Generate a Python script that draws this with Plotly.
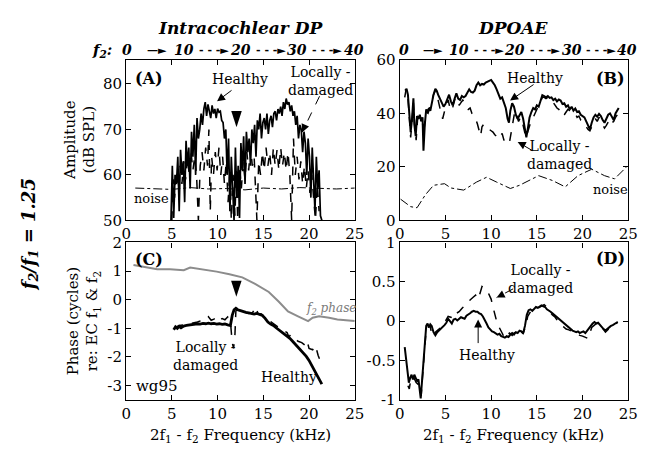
import plotly.graph_objects as go

W, H = 651, 456
FONT = "DejaVu Serif, serif"

# ---------------- data ----------------
# Panel A: intracochlear DP amplitude (dB SPL)
a_h_x = [4.9, 5.05, 5.2, 5.35, 5.5, 5.65, 5.8, 5.95, 6.1, 6.25, 6.4, 6.55, 6.7, 6.85, 7.0, 7.15, 7.3, 7.45, 7.6, 7.75,
         7.9, 8.05, 8.2, 8.35, 8.5, 8.65, 8.8, 8.95, 9.1, 9.25, 9.4, 9.55, 9.7, 9.85, 10.0, 10.15, 10.3, 10.45, 10.6, 10.75,
         10.9, 11.05, 11.2, 11.35, 11.5, 11.65, 11.8, 11.95, 12.1, 12.25, 12.4, 12.55, 12.7, 12.85, 13.0, 13.15, 13.3, 13.45,
         13.6, 13.75, 13.9, 14.05, 14.2, 14.35, 14.5, 14.65, 14.8, 14.95, 15.1, 15.25, 15.4, 15.55, 15.7, 15.85, 16.0, 16.15,
         16.3, 16.45, 16.6, 16.75, 16.9, 17.05, 17.2, 17.35, 17.5, 17.65, 17.8, 17.95, 18.1, 18.25, 18.4, 18.55, 18.7, 18.85,
         19.0, 19.15, 19.3, 19.45, 19.6, 19.75, 19.9, 20.05, 20.2, 20.35, 20.5, 20.65, 20.8, 20.95, 21.1, 21.25, 21.4]
a_h_y = [50, 62, 50.5, 60, 58, 64, 52, 65.5, 60, 63, 54, 67.5, 62, 66, 57, 69.5, 64, 71, 60, 72.5,
         68, 70, 73.5, 71, 74.5, 76, 73, 75.5, 74, 72.5, 75.3, 73.5, 74.5, 72.5, 74.6, 73.8, 74, 72, 71.5, 68,
         70, 60, 68, 52, 64, 58, 50, 66, 55, 62, 50.5, 67, 61, 68.5, 58, 69.5, 65, 68,
         62, 70, 67, 71, 64, 72, 70, 73.5, 68, 71.5, 72.5, 70, 73.5, 69, 72, 73, 70.5, 73.5,
         74, 72, 74.5, 73.5, 75, 73, 76, 74.5, 76.8, 75.5, 76, 74, 75.3, 73, 74, 71, 73, 68,
         71, 70, 65, 69.5, 67, 60, 68, 64, 55, 66, 60, 52, 64, 57, 61, 51, 50]
a_d_x = [5.0, 5.15, 5.3, 5.5, 5.7, 5.9, 6.1, 6.3, 6.5, 6.7, 6.9, 7.1, 7.3, 7.5, 7.7, 7.9, 8.1, 8.3, 8.5, 8.7, 8.9,
         9.05, 9.2, 9.35, 9.55, 9.75, 9.95, 10.15, 10.35, 10.55, 10.75, 10.95, 11.15, 11.35, 11.5, 11.7, 11.9, 12.05,
         12.2, 12.4, 12.6, 12.8, 13.0, 13.2, 13.4, 13.6, 13.8, 14.0, 14.3, 14.5, 14.7, 14.9, 15.1, 15.3, 15.5, 15.7,
         15.9, 16.1, 16.3, 16.5, 16.7, 16.9, 17.1, 17.3, 17.5, 17.7, 17.9, 18.1, 18.3, 18.5, 18.7, 18.9, 19.1, 19.3,
         19.5, 19.7, 19.9, 20.1, 20.3, 20.5, 20.7, 20.9, 21.1]
a_d_y = [50, 59, 55, 61, 57, 62, 58, 63, 59, 64, 60, 65, 61, 64, 60, 50, 62, 65, 61, 66, 62,
         70, 52, 64, 60, 65, 61, 66, 60, 64, 58, 63, 54, 61, 50, 60, 51, 61,
         50, 62, 57, 63, 59, 65, 61, 66, 62, 64, 50, 63, 60, 65, 61, 66, 62, 65,
         60, 66, 62, 65.5, 61, 66, 62, 65, 61, 65, 60, 50, 68, 60, 64, 59, 63, 58,
         62, 57, 61, 56, 60, 55, 50, 58, 52]
a_n_x = [1.0, 3.0, 5.0, 7.0, 9.0, 11.0, 13.0, 15.0, 17.0, 19.0, 21.0, 23.0, 25.0]
a_n_y = [57.1, 57.0, 56.8, 57.2, 56.9, 57.0, 56.7, 57.1, 56.9, 57.2, 57.0, 56.9, 57.1]

# Panel B: DPOAE amplitude (dB SPL)
b_h_x = [0.6, 0.75, 0.9, 1.05, 1.2, 1.35, 1.5, 1.6, 1.75, 1.9, 2.05, 2.2, 2.35, 2.5, 2.6, 2.75, 2.9, 3.05, 3.2, 3.35,
         3.5, 3.7, 3.9, 4.05, 4.2, 4.4, 4.6, 4.8, 5.0, 5.2, 5.4, 5.6, 5.8, 6.0, 6.2, 6.4, 6.6, 6.8, 7.0, 7.2,
         7.4, 7.6, 7.8, 8.0, 8.2, 8.4, 8.6, 8.8, 9.0, 9.2, 9.4, 9.6, 9.8, 10.0, 10.2, 10.4, 10.6, 10.8, 11.0, 11.2,
         11.4, 11.6, 11.8, 11.95, 12.1, 12.3, 12.5, 12.7, 12.9, 13.1, 13.3, 13.5, 13.7, 13.85, 14.0, 14.2, 14.4, 14.6,
         14.8, 15.0, 15.2, 15.4, 15.6, 15.8, 16.0, 16.2, 16.4, 16.6, 16.8, 17.0, 17.2, 17.4, 17.6, 17.8, 18.0, 18.2,
         18.4, 18.6, 18.8, 19.0, 19.2, 19.4, 19.6, 19.8, 20.0, 20.2, 20.4, 20.6, 20.8, 21.0, 21.2, 21.4, 21.6, 21.8,
         22.0, 22.2, 22.4, 22.6, 22.8, 23.0, 23.2, 23.4, 23.6, 23.8, 23.95]
b_h_y = [48.5, 49.2, 47, 40, 33, 38, 45.6, 36, 31.5, 39, 38, 39.5, 37, 38.5, 26, 36, 41.5, 40.5, 42, 41,
         44, 47, 49.2, 48.5, 47, 45.5, 44, 42.5, 43.5, 45, 47, 44.5, 43, 45.5, 47.5, 45.5, 45, 46.5, 46, 46.5,
         48, 49, 48, 47.8, 48.5, 50.5, 51.5, 50.5, 51, 50.8, 51.5, 51.8, 52.2, 52.5, 51.5, 50.5, 49, 47, 45.5, 46,
         44, 42, 38, 36.5, 41, 43.8, 42.5, 39.5, 38, 39.5, 40.5, 38, 34, 31, 34, 38.5, 40.5, 42,
         41.5, 43, 42.5, 45, 46.8, 46.5, 46, 46.5, 45.8, 46, 45, 45.5, 44.5, 45.2, 44.8, 43.5, 43.8, 42.5,
         43, 41.5, 42.5, 41, 41.8, 40.5, 40.8, 39.5, 39, 38.5, 37, 35.5, 34, 36.5, 38.5, 39.5, 38.8, 39.8,
         39, 37.5, 36.5, 38, 39.5, 40, 38.5, 37.5, 40, 41.5, 42]
b_d_x = [0.55, 0.7, 0.9, 1.05, 1.2, 1.35, 1.5, 1.65, 1.8, 1.95, 2.1, 2.3, 2.5, 2.7, 2.9, 3.1, 3.3, 3.5, 3.7, 3.9,
         4.1, 4.3, 4.5, 4.7, 4.9, 5.1, 5.3, 5.5, 5.7, 5.9, 6.1, 6.3, 6.5, 6.7, 6.9, 7.1, 7.3, 7.5, 7.7, 7.9,
         8.1, 8.3, 8.5, 8.7, 8.85, 9.0, 9.2, 9.4, 9.6, 9.8, 10.0, 10.2, 10.4, 10.6, 10.8, 11.0, 11.2, 11.4, 11.6, 11.8,
         12.0, 12.2, 12.4, 12.6, 12.8, 13.0, 13.2, 13.4, 13.6, 13.8, 14.0, 14.2, 14.4, 14.6, 14.8, 15.0, 15.2, 15.4,
         15.6, 15.8, 16.0, 16.2, 16.4, 16.6, 16.8, 17.0, 17.2, 17.4, 17.6, 17.8, 18.0, 18.2, 18.4, 18.6, 18.8, 19.0,
         19.2, 19.4, 19.6, 19.8, 20.0, 20.2, 20.4, 20.6, 20.8, 21.0, 21.2, 21.4, 21.6, 21.8, 22.0, 22.2, 22.4, 22.6,
         22.8, 23.0, 23.2, 23.4, 23.6, 23.8]
b_d_y = [46, 49, 46, 38, 31, 37, 44, 35, 30, 37.5, 39, 38, 36, 35, 40.5, 40, 42, 44.5, 47, 48.5,
         46.5, 43, 40.5, 38, 41, 43.5, 45, 42, 41, 43.5, 46, 45, 43, 44, 45, 44, 42.5, 41.5, 42, 40,
         39, 38, 36, 33, 31.5, 35, 36, 35.5, 34.5, 34, 33.5, 33, 32, 31.5, 30.5, 31, 32.5, 30, 29.5, 28.5,
         29, 33.5, 37.5, 41, 39, 37, 38.5, 37, 34, 31, 33, 35.5, 37.5, 38.5, 40, 41.5, 42.5, 44,
         46, 46, 45.5, 46, 45, 45, 44, 43, 42, 41.5, 40.5, 41, 39.5, 40.5, 41.5, 41, 40.5, 39.8,
         40, 38.5, 39, 37.5, 37, 36.5, 35, 34, 33.5, 35, 37, 38, 37, 38.5, 37, 36, 34.5, 35.5,
         37, 38, 36.5, 37, 38.5, 39.5]
b_n_x = [0.1, 1.2, 1.9, 2.8, 3.7, 4.9, 5.6, 7.0, 8.4, 9.5, 10.6, 12.1, 13.1, 15.2, 16.7, 18.1, 19.5, 21.0, 22.4, 23.5, 24.9]
b_n_y = [7.9, 5.1, 4.7, 9.5, 13.1, 13.7, 12.1, 11.3, 14.3, 16.1, 14.3, 11.9, 13.1, 16.7, 14.9, 12.5, 16.7, 19.1, 16.7, 15.5, 20.3]

# Panel C: intracochlear DP phase (cycles)
c_f2_x = [0.8, 2.4, 3.4, 4.8, 6.3, 7.0, 8.4, 9.9, 11.3, 12.7, 14.1, 15.6, 16.7, 17.7, 18.8, 19.9, 20.4, 21.1, 22.2, 23.1, 25.0]
c_f2_y = [1.21, 1.12, 1.06, 1.06, 1.03, 1.12, 1.06, 0.98, 0.89, 0.78, 0.55, 0.27, -0.07, -0.41, -0.58, -0.75, -0.63, -0.58, -0.63, -0.69, -0.74]
c_h_x = [5.2, 5.4, 5.6, 5.8, 6.0, 6.3, 6.6, 6.9, 7.2, 7.5, 7.8, 8.1, 8.4, 8.7, 9.0, 9.3, 9.6, 9.9, 10.2, 10.5,
         10.8, 11.1, 11.4, 11.6, 11.8, 12.0, 12.2, 12.5, 12.8, 13.1, 13.4, 13.7, 14.0, 14.3, 14.6, 14.9, 15.2, 15.5,
         15.8, 16.1, 16.4, 16.7, 17.0, 17.3, 17.6, 17.9, 18.2, 18.5, 18.8, 19.1, 19.4, 19.7, 20.0, 20.3, 20.6, 20.9,
         21.2, 21.4]
c_h_y = [-1.05, -0.95, -1.0, -0.93, -0.98, -0.92, -0.9, -0.88, -0.86, -0.86, -0.84, -0.85, -0.83, -0.84, -0.82, -0.84,
         -0.83, -0.85, -0.84, -0.86, -0.85, -0.88, -0.9, -0.55, -0.35, -0.3, -0.35, -0.38, -0.42, -0.44, -0.46, -0.48,
         -0.5, -0.48, -0.52, -0.55, -0.65, -0.78, -0.85, -0.9, -0.98, -1.05, -1.12, -1.2, -1.28, -1.35, -1.45, -1.55,
         -1.65, -1.75, -1.86, -1.98, -2.12, -2.3, -2.45, -2.62, -2.8, -2.95]
c_d_x = [5.3, 5.8, 6.3, 6.8, 7.3, 7.8, 8.3, 8.8, 9.0, 9.3, 9.6, 9.9, 10.2, 10.5, 10.8, 11.1, 11.4, 11.6, 11.75, 11.9,
         12.0, 12.2, 12.6, 13.0, 13.4, 13.8, 14.2, 14.4, 14.8, 15.2, 15.6, 16.0, 16.4, 16.8, 17.2, 17.6, 17.8, 18.0,
         18.4, 18.8, 19.2, 19.6, 19.8, 20.0, 20.4, 20.7, 21.0, 21.3]
c_d_y = [-0.98, -0.9, -0.88, -0.85, -0.8, -0.78, -0.72, -0.7, -0.6, -0.72, -0.68, -0.6, -0.72, -0.66, -0.7, -0.6,
         -0.75, -1.5, -1.7, -1.2, -0.4, -0.32, -0.4, -0.45, -0.48, -0.46, -0.25, -0.48, -0.5, -0.62, -0.72, -0.82,
         -0.9, -1.0, -1.08, -1.15, -1.3, -1.22, -1.35, -1.45, -1.5, -1.6, -1.45, -1.7, -1.75, -1.6, -1.95, -2.2]

# Panel D: DPOAE phase (cycles)
d_h_x = [0.55, 0.7, 0.85, 1.0, 1.15, 1.3, 1.45, 1.6, 1.75, 1.9, 2.05, 2.2, 2.3, 2.45, 2.6, 2.75, 2.9, 3.05, 3.2, 3.35,
         3.5, 3.7, 3.9, 4.1, 4.3, 4.5, 4.7, 4.9, 5.1, 5.3, 5.5, 5.7, 5.9, 6.1, 6.3, 6.5, 6.7, 6.9, 7.1, 7.3,
         7.5, 7.7, 7.9, 8.1, 8.3, 8.5, 8.7, 8.9, 9.1, 9.3, 9.5, 9.7, 9.9, 10.1, 10.3, 10.5, 10.7, 10.9, 11.1, 11.3,
         11.5, 11.7, 11.9, 12.1, 12.3, 12.5, 12.7, 12.9, 13.1, 13.3, 13.5, 13.7, 13.9, 14.1, 14.3, 14.5, 14.7, 14.9,
         15.1, 15.3, 15.5, 15.7, 15.9, 16.1, 16.3, 16.5, 16.7, 16.9, 17.1, 17.3, 17.5, 17.7, 17.9, 18.1, 18.3, 18.5,
         18.7, 18.9, 19.1, 19.3, 19.5, 19.7, 19.9, 20.1, 20.3, 20.5, 20.7, 20.9, 21.1, 21.3, 21.5, 21.7, 21.9, 22.1,
         22.3, 22.5, 22.7, 22.9, 23.1, 23.3, 23.5, 23.7, 23.85]
d_h_y = [-0.33, -0.5, -0.68, -0.78, -0.72, -0.68, -0.74, -0.68, -0.72, -0.76, -0.74, -0.85, -0.98, -0.75, -0.55, -0.25,
         -0.06, -0.03, -0.08, -0.04, -0.06, -0.14, -0.18, -0.14, -0.12, -0.1, -0.08, -0.05, -0.02, 0.03, 0.0, -0.03,
         0.02, 0.03, 0.01, 0.03, 0.05, 0.04, 0.03, 0.07, 0.08, 0.1, 0.12, 0.13, 0.12, 0.12, 0.1, 0.09, 0.06, 0.02,
         -0.03, -0.08, -0.11, -0.13, -0.14, -0.15, -0.17, -0.16, -0.19, -0.2, -0.21, -0.19, -0.2, -0.17, -0.15, -0.17,
         -0.14, -0.15, -0.12, -0.13, -0.15, -0.06, 0.08, 0.14, 0.15, 0.13, 0.16, 0.18, 0.17, 0.19, 0.2, 0.19, 0.18,
         0.15, 0.14, 0.12, 0.1, 0.08, 0.06, 0.04, 0.02, -0.01, -0.03, -0.05, -0.07, -0.09, -0.11, -0.12, -0.13, -0.14,
         -0.13, -0.15, -0.14, -0.13, -0.15, -0.12, -0.08, -0.05, -0.03, -0.01, -0.03, -0.02, -0.05, -0.07, -0.1, -0.12,
         -0.1, -0.07, -0.06, -0.05, -0.03, -0.02, -0.01]
d_d_x = [0.9, 1.05, 1.2, 1.4, 1.6, 1.8, 2.0, 2.2, 2.35, 2.5, 2.7, 2.9, 3.1, 3.3, 3.5, 3.7, 3.9, 4.1, 4.4, 4.7,
         5.0, 5.3, 5.6, 5.9, 6.2, 6.5, 6.8, 7.1, 7.4, 7.7, 8.0, 8.3, 8.6, 8.8, 9.0, 9.2, 9.4, 9.6, 9.8, 10.0,
         10.2, 10.4, 10.6, 10.8, 11.0, 11.2, 11.4, 11.6, 11.8, 12.0, 12.3, 12.6, 12.9, 13.2, 13.5, 13.8, 14.0, 14.3,
         14.6, 14.9, 15.2, 15.5, 15.8, 16.1, 16.4, 16.7, 17.0, 17.3, 17.6, 17.9, 18.2, 18.5, 18.8, 19.1, 19.4, 19.7,
         20.0, 20.3, 20.6, 21.0, 21.5, 22.0, 22.5, 23.0, 23.5, 23.8]
d_d_y = [-0.82, -0.86, -0.75, -0.7, -0.73, -0.78, -0.8, -0.9, -0.95, -0.7, -0.35, -0.1, -0.08, -0.05, -0.16, -0.2,
         -0.14, -0.12, -0.1, -0.06, 0.0, 0.06, 0.05, 0.03, 0.1, 0.12, 0.16, 0.2, 0.22, 0.27, 0.3, 0.33, 0.28, 0.35,
         0.44, 0.42, 0.41, 0.38, 0.33, 0.28, 0.18, 0.08, 0.0, -0.06, -0.1, -0.15, -0.2, -0.22, -0.18, -0.15, -0.18,
         -0.14, -0.17, -0.12, -0.16, -0.05, 0.06, 0.12, 0.13, 0.15, 0.17, 0.2, 0.21, 0.18, 0.12, 0.08, 0.05, 0.0,
         -0.05, -0.07, -0.1, -0.11, -0.13, -0.15, -0.16, -0.18, -0.19, -0.2, -0.22, -0.08, -0.03, -0.06, -0.14,
         -0.08, -0.04, -0.02]

x_ticks = [0, 5, 10, 15, 20, 25]
a_yticks = [50, 60, 70, 80]
b_yticks = [0, 20, 40, 60]
c_yticks = [-3, -2, -1, 0, 1, 2]
d_yticks = [-1, -0.5, 0, 0.5, 1]
d_yticktext = ["-1", "-0.5", "0", "0.5", "1"]
f2_labels = ["0", "10", "20", "30", "40"]

# ---------------- figure ----------------
fig = go.Figure()


def line(x, y, ax, dash="solid", width=1.5, color="black"):
    fig.add_trace(go.Scatter(x=x, y=y, xaxis=ax[0], yaxis=ax[1], mode="lines",
                             line=dict(color=color, width=width, dash=dash),
                             showlegend=False, hoverinfo="skip"))


A, B, C, D = ("x", "y"), ("x2", "y2"), ("x3", "y3"), ("x4", "y4")

line(a_n_x, a_n_y, A, "dashdot", 1)
line(a_d_x, a_d_y, A, "dash", 1.5)
line(a_h_x, a_h_y, A, "solid", 1.7)

line(b_n_x, b_n_y, B, "dashdot", 1)
line(b_d_x, b_d_y, B, "dash", 1.5)
line(b_h_x, b_h_y, B, "solid", 2)

line(c_f2_x, c_f2_y, C, "solid", 2, "#8c8c8c")
line(c_d_x, c_d_y, C, "dash", 1.5)
line(c_h_x, c_h_y, C, "solid", 2.8)

line(d_d_x, d_d_y, D, "dash", 1.5)
line(d_h_x, d_h_y, D, "solid", 2)

# arrowhead markers
for ax, xv, yv in [(A, 12.07, 70.5), (C, 12.05, 0.1)]:
    fig.add_trace(go.Scatter(x=[xv], y=[yv], xaxis=ax[0], yaxis=ax[1], mode="markers",
                             marker=dict(symbol="arrow", angle=180, size=17, color="black"),
                             showlegend=False, hoverinfo="skip"))

tickfont = dict(family=FONT, size=15, color="black")


def axis(domain, rng, tickvals, anchor, ticktext=None):
    d = dict(domain=domain, range=rng, tickvals=tickvals, anchor=anchor, showline=True, linecolor="black",
             linewidth=1.3, mirror="ticks", ticks="inside", ticklen=5, tickwidth=1, tickcolor="black",
             showgrid=False, zeroline=False, tickfont=tickfont, fixedrange=True)
    if ticktext is not None:
        d["ticktext"] = ticktext
    return d


xl = [124 / W, 358 / W]
xr = [404 / W, 638 / W]
yt = [1 - 220 / H, 1 - 53 / H]
yb = [1 - 407 / H, 1 - 243 / H]

fig.update_layout(
    width=W, height=H, margin=dict(l=0, r=0, t=0, b=0), autosize=False,
    paper_bgcolor="white", plot_bgcolor="white", showlegend=False,
    font=dict(family=FONT, size=15, color="black"),
    xaxis=axis(xl, [0, 25], x_ticks, "y"),
    yaxis=axis(yt, [50, 85.3], a_yticks, "x"),
    xaxis2=axis(xr, [0, 25], x_ticks, "y2"),
    yaxis2=axis(yt, [0, 60], b_yticks, "x2"),
    xaxis3=axis(xl, [0, 25], x_ticks, "y3"),
    yaxis3=axis(yb, [-3.5, 2], c_yticks, "x3", [str(v) for v in c_yticks]),
    xaxis4=axis(xr, [0, 25], x_ticks, "y4"),
    yaxis4=axis(yb, [-1, 1], d_yticks, "x4", d_yticktext),
)

ann = []


def ptext(xpx, ypx, text, size=15, **kw):
    d = dict(x=xpx / W, y=1 - ypx / H, xref="paper", yref="paper", text=text, showarrow=False,
             font=dict(family=FONT, size=size, color=kw.pop("color", "black")), xanchor="center", yanchor="middle")
    d.update(kw)
    ann.append(d)


def dtext(ax, x, y, text, size=15, color="black", **kw):
    d = dict(x=x, y=y, xref=ax[0], yref=ax[1], text=text, showarrow=False,
             font=dict(family=FONT, size=size, color=color), xanchor="center", yanchor="middle")
    d.update(kw)
    ann.append(d)


def arrow(ax, x, y, dx, dy):
    ann.append(dict(x=x, y=y, xref=ax[0], yref=ax[1], ax=dx, ay=dy, text="", showarrow=True,
                    arrowhead=2, arrowsize=1.6, arrowwidth=1, arrowcolor="black"))


def dashed_arrow(ax, x0, y0, x1, y1, ux, uy):
    fig.add_shape(type="line", xref=ax[0], yref=ax[1], x0=x0, y0=y0, x1=x1, y1=y1,
                  line=dict(color="black", width=1, dash="dash"))
    ann.append(dict(x=x1, y=y1, xref=ax[0], yref=ax[1], ax=ux, ay=uy, text="", showarrow=True,
                    arrowhead=2, arrowsize=1.6, arrowwidth=1, arrowcolor="black"))


# titles
ptext(241, 20, "<b><i>Intracochlear DP</i></b>", 17)
ptext(521, 20, "<b><i>DPOAE</i></b>", 17)
ptext(99, 43, "<b><i>f<sub>2</sub>:</i></b>", 15)
for xs in ([125, 183, 241, 299, 357], [408, 465, 522, 580, 637]):
    for i, lab in enumerate(f2_labels):
        ptext(xs[i], 43, "<b><i>" + lab + "</i></b>", 14)
    for i in range(4):
        mid = (xs[i] + xs[i + 1]) / 2 + 2
        ptext(mid, 43, "<b>\u2014\u25ba</b>" if i == 0 else "<b>- - -\u25ba</b>", 11)

# left label
ptext(25, 235, "<b><i>f<sub>2</sub>/f<sub>1</sub> = 1.25</i></b>", 18, textangle=-90)
# axis titles
ptext(76, 136, "Amplitude<br>(dB SPL)", 15, textangle=-90)
ptext(80, 325, "Phase (cycles)<br>re: EC f<sub>1</sub> &amp; f<sub>2</sub>", 15, textangle=-90)
ptext(241, 444, "2f<sub>1</sub> - f<sub>2</sub> Frequency (kHz)", 15)
ptext(521, 444, "2f<sub>1</sub> - f<sub>2</sub> Frequency (kHz)", 15)

# panel A
dtext(A, 2.46, 81.1, "<b>(A)</b>", 16)
dtext(A, 12.5, 81.1, "Healthy", 14)
dtext(A, 21.3, 80.6, "Locally -<br>damaged", 14)
dtext(A, 2.8, 54.8, "noise", 13)
arrow(A, 9.94, 76.2, 16, -12)
dashed_arrow(A, 21.15, 77.3, 19.25, 69.4, 3, -7)

# panel B
dtext(B, 23.1, 53.1, "<b>(B)</b>", 16)
dtext(B, 14.85, 53.1, "Healthy", 14)
dtext(B, 17.5, 24.5, "Locally -<br>damaged", 14)
dtext(B, 23.0, 11.6, "noise", 13)
arrow(B, 12.07, 44.8, 25, -17)
dashed_arrow(B, 14.5, 26.1, 12.9, 29.3, 6, 3)

# panel C
dtext(C, 2.46, 1.39, "<b>(C)</b>", 16)
dtext(C, 8.65, -1.95, "Locally -<br>damaged", 14)
dtext(C, 17.85, -2.7, "Healthy", 14)
dtext(C, 3.4, -3.03, "wg95", 15)
dtext(C, 22.4, -0.33, "<i>f<sub>2</sub> phase</i>", 12, color="#7a7a7a")

# panel D
dtext(D, 23.1, 0.79, "<b>(D)</b>", 16)
dtext(D, 15.4, 0.54, "Locally -<br>damaged", 14)
dtext(D, 9.5, -0.43, "Healthy", 14)
arrow(D, 8.58, 0.02, 0, 25)
dashed_arrow(D, 12.4, 0.41, 10.6, 0.3, 6, -3)

fig.update_layout(annotations=ann)
fig.write_html("out.html")
